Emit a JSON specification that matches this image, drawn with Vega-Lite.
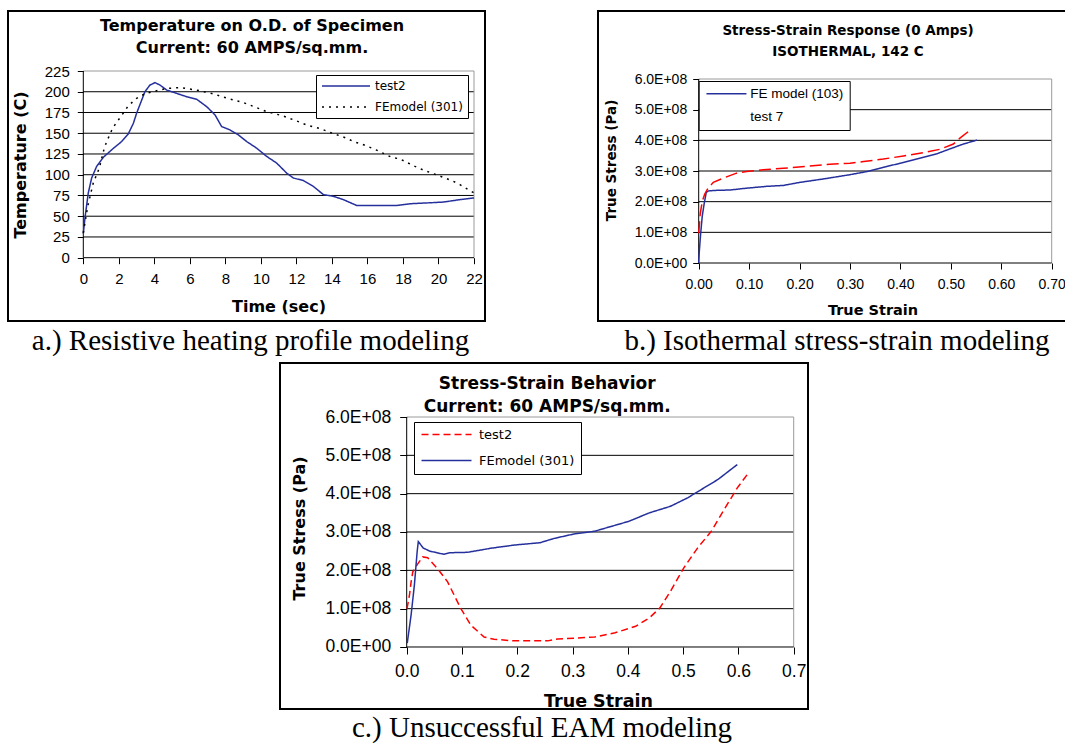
{
  "$schema": "https://vega.github.io/schema/vega-lite/v6.json",
  "background": "white",
  "padding": {"left": 7, "top": 10, "right": 0, "bottom": 0},
  "spacing": 6,
  "resolve": {"scale": {"color": "independent", "strokeDash": "independent"}, "legend": {"color": "independent", "strokeDash": "independent"}},
  "config": {
    "view": {"stroke": "black", "strokeWidth": 2},
    "axis": {
      "grid": false, "domain": false, "tickColor": "black", "tickWidth": 1,
      "labelColor": "black", "labelFont": "Liberation Sans", "titleFont": "DejaVu Sans",
      "titleColor": "black", "titleFontWeight": "bold", "labelFlush": false, "labelOverlap": false,
      "labelBound": false, "titleAlign": "center", "titleBaseline": "middle"
    },
    "legend": {"labelFont": "Liberation Sans", "labelColor": "black", "fillColor": "white", "strokeColor": "black"}
  },
  "datasets": {
    "heating": [
      {"time": 0, "temp": 29, "series": "test2"},
      {"time": 0.1, "temp": 49, "series": "test2"},
      {"time": 0.28, "temp": 78, "series": "test2"},
      {"time": 0.47, "temp": 96, "series": "test2"},
      {"time": 0.75, "temp": 110, "series": "test2"},
      {"time": 1.13, "temp": 121, "series": "test2"},
      {"time": 1.65, "temp": 131, "series": "test2"},
      {"time": 2.16, "temp": 140, "series": "test2"},
      {"time": 2.53, "temp": 149, "series": "test2"},
      {"time": 2.82, "temp": 162, "series": "test2"},
      {"time": 3.0, "temp": 174, "series": "test2"},
      {"time": 3.47, "temp": 200, "series": "test2"},
      {"time": 3.75, "temp": 208, "series": "test2"},
      {"time": 4.04, "temp": 211, "series": "test2"},
      {"time": 4.32, "temp": 208, "series": "test2"},
      {"time": 4.7, "temp": 202, "series": "test2"},
      {"time": 5.26, "temp": 198, "series": "test2"},
      {"time": 5.82, "temp": 194, "series": "test2"},
      {"time": 6.38, "temp": 191, "series": "test2"},
      {"time": 6.95, "temp": 182, "series": "test2"},
      {"time": 7.42, "temp": 172, "series": "test2"},
      {"time": 7.79, "temp": 158, "series": "test2"},
      {"time": 8.26, "temp": 154, "series": "test2"},
      {"time": 8.73, "temp": 148, "series": "test2"},
      {"time": 9.2, "temp": 140, "series": "test2"},
      {"time": 9.76, "temp": 132, "series": "test2"},
      {"time": 10.33, "temp": 122, "series": "test2"},
      {"time": 10.89, "temp": 114, "series": "test2"},
      {"time": 11.45, "temp": 102, "series": "test2"},
      {"time": 11.83, "temp": 96, "series": "test2"},
      {"time": 12.39, "temp": 93, "series": "test2"},
      {"time": 12.95, "temp": 86, "series": "test2"},
      {"time": 13.52, "temp": 76, "series": "test2"},
      {"time": 14.08, "temp": 74, "series": "test2"},
      {"time": 14.64, "temp": 70, "series": "test2"},
      {"time": 15.39, "temp": 63, "series": "test2"},
      {"time": 16.14, "temp": 63, "series": "test2"},
      {"time": 17.65, "temp": 63, "series": "test2"},
      {"time": 18.4, "temp": 65, "series": "test2"},
      {"time": 19.34, "temp": 66, "series": "test2"},
      {"time": 20.27, "temp": 67, "series": "test2"},
      {"time": 21.21, "temp": 70, "series": "test2"},
      {"time": 22, "temp": 72, "series": "test2"},
      {"time": 0, "temp": 30, "series": "FEmodel (301)"},
      {"time": 0.25, "temp": 62, "series": "FEmodel (301)"},
      {"time": 0.56, "temp": 90, "series": "FEmodel (301)"},
      {"time": 0.9, "temp": 108, "series": "FEmodel (301)"},
      {"time": 1.18, "temp": 132, "series": "FEmodel (301)"},
      {"time": 1.32, "temp": 140, "series": "FEmodel (301)"},
      {"time": 1.65, "temp": 156, "series": "FEmodel (301)"},
      {"time": 1.84, "temp": 162, "series": "FEmodel (301)"},
      {"time": 2.31, "temp": 176, "series": "FEmodel (301)"},
      {"time": 2.53, "temp": 183, "series": "FEmodel (301)"},
      {"time": 3.0, "temp": 192, "series": "FEmodel (301)"},
      {"time": 3.5, "temp": 198, "series": "FEmodel (301)"},
      {"time": 4.09, "temp": 201, "series": "FEmodel (301)"},
      {"time": 4.69, "temp": 204, "series": "FEmodel (301)"},
      {"time": 5.44, "temp": 205, "series": "FEmodel (301)"},
      {"time": 6.38, "temp": 202, "series": "FEmodel (301)"},
      {"time": 7.23, "temp": 198, "series": "FEmodel (301)"},
      {"time": 8.13, "temp": 192, "series": "FEmodel (301)"},
      {"time": 9.01, "temp": 187, "series": "FEmodel (301)"},
      {"time": 9.86, "temp": 180, "series": "FEmodel (301)"},
      {"time": 10.32, "temp": 176, "series": "FEmodel (301)"},
      {"time": 11.23, "temp": 171, "series": "FEmodel (301)"},
      {"time": 12.11, "temp": 164, "series": "FEmodel (301)"},
      {"time": 12.58, "temp": 160, "series": "FEmodel (301)"},
      {"time": 13.42, "temp": 155, "series": "FEmodel (301)"},
      {"time": 13.89, "temp": 151, "series": "FEmodel (301)"},
      {"time": 14.83, "temp": 144, "series": "FEmodel (301)"},
      {"time": 15.2, "temp": 140, "series": "FEmodel (301)"},
      {"time": 15.67, "temp": 137, "series": "FEmodel (301)"},
      {"time": 16.48, "temp": 130, "series": "FEmodel (301)"},
      {"time": 17.36, "temp": 121, "series": "FEmodel (301)"},
      {"time": 17.83, "temp": 119, "series": "FEmodel (301)"},
      {"time": 18.68, "temp": 110, "series": "FEmodel (301)"},
      {"time": 19.11, "temp": 106, "series": "FEmodel (301)"},
      {"time": 20.37, "temp": 96, "series": "FEmodel (301)"},
      {"time": 20.84, "temp": 92, "series": "FEmodel (301)"},
      {"time": 21.21, "temp": 88, "series": "FEmodel (301)"},
      {"time": 22, "temp": 78, "series": "FEmodel (301)"}
    ],
    "heatingGrid": [{"temp": 25}, {"temp": 50}, {"temp": 75}, {"temp": 100}, {"temp": 125}, {"temp": 150}, {"temp": 175}, {"temp": 200}],
    "stressGrid": [{"stress": 1e8}, {"stress": 2e8}, {"stress": 3e8}, {"stress": 4e8}, {"stress": 5e8}],
    "isothermal": [
      {"strain": 0, "stress": 0, "series": "FE model (103)"},
      {"strain": 0.001, "stress": 0.33e8, "series": "FE model (103)"},
      {"strain": 0.004, "stress": 0.98e8, "series": "FE model (103)"},
      {"strain": 0.007, "stress": 1.52e8, "series": "FE model (103)"},
      {"strain": 0.011, "stress": 1.95e8, "series": "FE model (103)"},
      {"strain": 0.015, "stress": 2.3e8, "series": "FE model (103)"},
      {"strain": 0.019, "stress": 2.35e8, "series": "FE model (103)"},
      {"strain": 0.036, "stress": 2.37e8, "series": "FE model (103)"},
      {"strain": 0.062, "stress": 2.38e8, "series": "FE model (103)"},
      {"strain": 0.095, "stress": 2.44e8, "series": "FE model (103)"},
      {"strain": 0.135, "stress": 2.5e8, "series": "FE model (103)"},
      {"strain": 0.168, "stress": 2.53e8, "series": "FE model (103)"},
      {"strain": 0.201, "stress": 2.63e8, "series": "FE model (103)"},
      {"strain": 0.247, "stress": 2.74e8, "series": "FE model (103)"},
      {"strain": 0.3, "stress": 2.88e8, "series": "FE model (103)"},
      {"strain": 0.333, "stress": 2.98e8, "series": "FE model (103)"},
      {"strain": 0.366, "stress": 3.12e8, "series": "FE model (103)"},
      {"strain": 0.399, "stress": 3.25e8, "series": "FE model (103)"},
      {"strain": 0.432, "stress": 3.39e8, "series": "FE model (103)"},
      {"strain": 0.472, "stress": 3.56e8, "series": "FE model (103)"},
      {"strain": 0.498, "stress": 3.72e8, "series": "FE model (103)"},
      {"strain": 0.525, "stress": 3.88e8, "series": "FE model (103)"},
      {"strain": 0.552, "stress": 4.01e8, "series": "FE model (103)"},
      {"strain": 0, "stress": 0.97e8, "series": "test 7"},
      {"strain": 0.003, "stress": 1.6e8, "series": "test 7"},
      {"strain": 0.007, "stress": 2.0e8, "series": "test 7"},
      {"strain": 0.012, "stress": 2.25e8, "series": "test 7"},
      {"strain": 0.019, "stress": 2.45e8, "series": "test 7"},
      {"strain": 0.029, "stress": 2.63e8, "series": "test 7"},
      {"strain": 0.049, "stress": 2.77e8, "series": "test 7"},
      {"strain": 0.075, "stress": 2.93e8, "series": "test 7"},
      {"strain": 0.095, "stress": 2.98e8, "series": "test 7"},
      {"strain": 0.128, "stress": 3.04e8, "series": "test 7"},
      {"strain": 0.168, "stress": 3.09e8, "series": "test 7"},
      {"strain": 0.214, "stress": 3.15e8, "series": "test 7"},
      {"strain": 0.26, "stress": 3.22e8, "series": "test 7"},
      {"strain": 0.3, "stress": 3.25e8, "series": "test 7"},
      {"strain": 0.327, "stress": 3.31e8, "series": "test 7"},
      {"strain": 0.366, "stress": 3.39e8, "series": "test 7"},
      {"strain": 0.406, "stress": 3.49e8, "series": "test 7"},
      {"strain": 0.446, "stress": 3.6e8, "series": "test 7"},
      {"strain": 0.479, "stress": 3.71e8, "series": "test 7"},
      {"strain": 0.505, "stress": 3.88e8, "series": "test 7"},
      {"strain": 0.518, "stress": 4.07e8, "series": "test 7"},
      {"strain": 0.535, "stress": 4.29e8, "series": "test 7"}
    ],
    "eam": [
      {"strain": 0.0005, "stress": 1.0e8, "series": "test2"},
      {"strain": 0.005, "stress": 1.35e8, "series": "test2"},
      {"strain": 0.008, "stress": 1.7e8, "series": "test2"},
      {"strain": 0.011, "stress": 1.96e8, "series": "test2"},
      {"strain": 0.02, "stress": 2.17e8, "series": "test2"},
      {"strain": 0.029, "stress": 2.35e8, "series": "test2"},
      {"strain": 0.038, "stress": 2.33e8, "series": "test2"},
      {"strain": 0.056, "stress": 2.04e8, "series": "test2"},
      {"strain": 0.074, "stress": 1.7e8, "series": "test2"},
      {"strain": 0.098, "stress": 1.0e8, "series": "test2"},
      {"strain": 0.116, "stress": 0.57e8, "series": "test2"},
      {"strain": 0.14, "stress": 0.26e8, "series": "test2"},
      {"strain": 0.158, "stress": 0.2e8, "series": "test2"},
      {"strain": 0.195, "stress": 0.16e8, "series": "test2"},
      {"strain": 0.255, "stress": 0.16e8, "series": "test2"},
      {"strain": 0.273, "stress": 0.21e8, "series": "test2"},
      {"strain": 0.303, "stress": 0.23e8, "series": "test2"},
      {"strain": 0.34, "stress": 0.26e8, "series": "test2"},
      {"strain": 0.377, "stress": 0.37e8, "series": "test2"},
      {"strain": 0.414, "stress": 0.54e8, "series": "test2"},
      {"strain": 0.439, "stress": 0.76e8, "series": "test2"},
      {"strain": 0.458, "stress": 1.02e8, "series": "test2"},
      {"strain": 0.477, "stress": 1.45e8, "series": "test2"},
      {"strain": 0.501, "stress": 2.06e8, "series": "test2"},
      {"strain": 0.526, "stress": 2.58e8, "series": "test2"},
      {"strain": 0.551, "stress": 3.02e8, "series": "test2"},
      {"strain": 0.576, "stress": 3.63e8, "series": "test2"},
      {"strain": 0.598, "stress": 4.15e8, "series": "test2"},
      {"strain": 0.618, "stress": 4.54e8, "series": "test2"},
      {"strain": 0.001, "stress": 0.1e8, "series": "FEmodel (301)"},
      {"strain": 0.008, "stress": 0.84e8, "series": "FEmodel (301)"},
      {"strain": 0.014, "stress": 1.63e8, "series": "FEmodel (301)"},
      {"strain": 0.019, "stress": 2.5e8, "series": "FEmodel (301)"},
      {"strain": 0.021, "stress": 2.75e8, "series": "FEmodel (301)"},
      {"strain": 0.03, "stress": 2.58e8, "series": "FEmodel (301)"},
      {"strain": 0.042, "stress": 2.5e8, "series": "FEmodel (301)"},
      {"strain": 0.067, "stress": 2.42e8, "series": "FEmodel (301)"},
      {"strain": 0.079, "stress": 2.46e8, "series": "FEmodel (301)"},
      {"strain": 0.11, "stress": 2.47e8, "series": "FEmodel (301)"},
      {"strain": 0.154, "stress": 2.58e8, "series": "FEmodel (301)"},
      {"strain": 0.195, "stress": 2.66e8, "series": "FEmodel (301)"},
      {"strain": 0.241, "stress": 2.72e8, "series": "FEmodel (301)"},
      {"strain": 0.266, "stress": 2.83e8, "series": "FEmodel (301)"},
      {"strain": 0.303, "stress": 2.95e8, "series": "FEmodel (301)"},
      {"strain": 0.34, "stress": 3.02e8, "series": "FEmodel (301)"},
      {"strain": 0.371, "stress": 3.15e8, "series": "FEmodel (301)"},
      {"strain": 0.402, "stress": 3.28e8, "series": "FEmodel (301)"},
      {"strain": 0.439, "stress": 3.5e8, "series": "FEmodel (301)"},
      {"strain": 0.477, "stress": 3.67e8, "series": "FEmodel (301)"},
      {"strain": 0.508, "stress": 3.89e8, "series": "FEmodel (301)"},
      {"strain": 0.532, "stress": 4.1e8, "series": "FEmodel (301)"},
      {"strain": 0.563, "stress": 4.37e8, "series": "FEmodel (301)"},
      {"strain": 0.598, "stress": 4.76e8, "series": "FEmodel (301)"}
    ]
  },
  "vconcat": [
    {
      "resolve": {"scale": {"color": "independent", "strokeDash": "independent"}, "legend": {"color": "independent", "strokeDash": "independent"}},
      "hconcat": [
        {
          "title": {"text": "a.) Resistive heating profile modeling", "orient": "bottom", "anchor": "middle", "offset": 5, "dx": 4, "font": "Liberation Serif", "fontSize": 29, "fontWeight": "normal", "color": "black"},
          "vconcat": [
            {
              "width": 477, "height": 310,
              "resolve": {"axis": {"x": "independent", "y": "independent"}},
              "layer": [
                {
                  "data": {"name": "heatingGrid"},
                  "mark": {"type": "rule", "color": "black", "strokeWidth": 1},
                  "encoding": {"y": {"field": "temp", "type": "quantitative", "axis": null}, "x": {"datum": 0, "axis": null}, "x2": {"datum": 22}}
                },
                {
                  "data": {"values": [{}]},
                  "mark": {"type": "rule", "color": "#9a9a9a", "strokeWidth": 1},
                  "encoding": {
                    "y": {"datum": 225, "axis": null},
                    "x": {"datum": 0, "axis": {"orient": "top", "offset": 0, "labels": false, "ticks": false, "title": ["Temperature on O.D. of Specimen", "Current: 60 AMPS/sq.mm."], "titleFontSize": 16, "titleLineHeight": 22.7, "titleX": 243.5, "titleY": 14}},
                    "x2": {"datum": 22}
                  }
                },
                {
                  "data": {"values": [{}]},
                  "mark": {"type": "rule", "color": "#9a9a9a", "strokeWidth": 1},
                  "encoding": {"x": {"datum": 22, "axis": null}, "y": {"datum": 0, "axis": null}, "y2": {"datum": 225}}
                },
                {
                  "data": {"values": [{}]},
                  "mark": {"type": "rule", "color": "black", "strokeWidth": 1},
                  "encoding": {"y": {"datum": 0, "axis": null}, "x": {"datum": 0, "axis": null}, "x2": {"datum": 22}}
                },
                {
                  "data": {"values": [{}]},
                  "mark": {"type": "rule", "color": "black", "strokeWidth": 1},
                  "encoding": {"x": {"datum": 0, "axis": null}, "y": {"datum": 0, "axis": null}, "y2": {"datum": 225}}
                },
                {
                  "data": {"name": "heating"},
                  "mark": {"type": "line", "strokeWidth": 1.5},
                  "encoding": {
                    "x": {"field": "time", "type": "quantitative",
                      "scale": {"domain": [-4.24, 22.619], "nice": false, "zero": false},
                      "axis": {"orient": "bottom", "offset": -63.3, "values": [0, 2, 4, 6, 8, 10, 12, 14, 16, 18, 20, 22], "tickSize": 6, "labelPadding": 8, "labelFontSize": 15, "title": "Time (sec)", "titleFontSize": 16, "titleX": 270.5, "titleY": 48.3}},
                    "y": {"field": "temp", "type": "quantitative",
                      "scale": {"domain": [-76.29, 297.31], "nice": false, "zero": false},
                      "axis": {"orient": "left", "offset": -75.3, "values": [0, 25, 50, 75, 100, 125, 150, 175, 200, 225], "tickSize": 6, "labelPadding": 8, "labelFontSize": 15, "title": "Temperature (C)", "titleFontSize": 16, "titleX": -62.6, "titleY": 153.5}},
                    "color": {"field": "series", "type": "nominal",
                      "scale": {"domain": ["test2", "FEmodel (301)"], "range": ["#26309c", "black"]},
                      "legend": {"title": null, "orient": "none", "legendX": 308, "legendY": 64, "padding": 5, "symbolType": "M-1,0H8.6", "symbolSize": 100, "symbolStrokeWidth": 1.5, "labelOffset": 42, "labelFont": "DejaVu Sans", "labelFontSize": 12, "rowPadding": 9}},
                    "strokeDash": {"field": "series", "type": "nominal",
                      "scale": {"domain": ["test2", "FEmodel (301)"], "range": [[1, 0], [2, 5]]}}
                  }
                }
              ]
            }
          ]
        },
        {
          "title": {"text": "b.) Isothermal stress-strain modeling", "orient": "bottom", "anchor": "middle", "offset": 5, "dx": 5, "font": "Liberation Serif", "fontSize": 29, "fontWeight": "normal", "color": "black"},
          "vconcat": [
            {
              "width": 468, "height": 310,
              "resolve": {"axis": {"x": "independent", "y": "independent"}},
              "layer": [
                {
                  "data": {"name": "stressGrid"},
                  "mark": {"type": "rule", "color": "black", "strokeWidth": 1},
                  "encoding": {"y": {"field": "stress", "type": "quantitative", "axis": null}, "x": {"datum": 0, "axis": null}, "x2": {"datum": 0.7}}
                },
                {
                  "data": {"values": [{}]},
                  "mark": {"type": "rule", "color": "#9a9a9a", "strokeWidth": 1},
                  "encoding": {
                    "y": {"datum": 6e8, "axis": null},
                    "x": {"datum": 0, "axis": {"orient": "top", "offset": 0, "labels": false, "ticks": false, "title": ["Stress-Strain Response (0 Amps)", "ISOTHERMAL, 142 C"], "titleFontSize": 13.5, "titleLineHeight": 21.7, "titleX": 249.5, "titleY": 19}},
                    "x2": {"datum": 0.7}
                  }
                },
                {
                  "data": {"values": [{}]},
                  "mark": {"type": "rule", "color": "#9a9a9a", "strokeWidth": 1},
                  "encoding": {"x": {"datum": 0.7, "axis": null}, "y": {"datum": 0, "axis": null}, "y2": {"datum": 6e8}}
                },
                {
                  "data": {"values": [{}]},
                  "mark": {"type": "rule", "color": "black", "strokeWidth": 1},
                  "encoding": {"y": {"datum": 0, "axis": null}, "x": {"datum": 0, "axis": null}, "x2": {"datum": 0.7}}
                },
                {
                  "data": {"values": [{}]},
                  "mark": {"type": "rule", "color": "black", "strokeWidth": 1},
                  "encoding": {"x": {"datum": 0, "axis": null}, "y": {"datum": 0, "axis": null}, "y2": {"datum": 6e8}}
                },
                {
                  "data": {"name": "isothermal"},
                  "mark": {"type": "line", "strokeWidth": 1.5},
                  "encoding": {
                    "x": {"field": "strain", "type": "quantitative",
                      "scale": {"domain": [-0.19968, 0.72836], "nice": false, "zero": false},
                      "axis": {"orient": "bottom", "offset": -58, "values": [0, 0.1, 0.2, 0.3, 0.4, 0.5, 0.6, 0.7], "format": ".2f", "tickSize": 6, "labelPadding": 8, "labelFontSize": 14, "title": "True Strain", "titleFontSize": 14.5, "titleX": 274.5, "titleY": 47.7}},
                    "y": {"field": "stress", "type": "quantitative",
                      "scale": {"domain": [-1.8913e8, 8.2174e8], "nice": false, "zero": false},
                      "axis": {"orient": "left", "offset": -100.7, "values": [0, 1e8, 2e8, 3e8, 4e8, 5e8, 6e8], "labelExpr": "datum.value === 0 ? '0.0E+00' : format(datum.value / 1e8, '.1f') + 'E+08'", "tickSize": 6, "labelPadding": 6, "labelFontSize": 14, "title": "True Stress (Pa)", "titleFontSize": 13.5, "titleX": -87, "titleY": 149}},
                    "color": {"field": "series", "type": "nominal",
                      "scale": {"domain": ["FE model (103)", "test 7"], "range": ["#26309c", "#ff0000"]},
                      "legend": {"title": null, "orient": "none", "legendX": 100.7, "legendY": 70, "padding": 6, "symbolType": "M-1,0H7", "symbolSize": 100, "symbolStrokeWidth": 1.5, "labelOffset": 32, "labelFontSize": 13.5, "rowPadding": 8,
                        "encoding": {"symbols": {"opacity": {"condition": {"test": "datum.value === 'test 7'", "value": 0}, "value": 1}}}}},
                    "strokeDash": {"field": "series", "type": "nominal",
                      "scale": {"domain": ["FE model (103)", "test 7"], "range": [[1, 0], [12, 5]]}}
                  }
                }
              ]
            }
          ]
        }
      ],
      "spacing": 111
    },
    {
      "resolve": {"scale": {"color": "independent", "strokeDash": "independent"}, "legend": {"color": "independent", "strokeDash": "independent"}},
      "hconcat": [
        {"width": 271, "height": 10, "view": {"stroke": null}, "data": {"values": []}, "mark": "point", "encoding": {}},
        {
          "title": {"text": "c.) Unsuccessful EAM modeling", "orient": "bottom", "anchor": "middle", "offset": 3, "dx": -2, "font": "Liberation Serif", "fontSize": 29, "fontWeight": "normal", "color": "black"},
          "vconcat": [
            {
              "width": 528, "height": 346,
              "resolve": {"axis": {"x": "independent", "y": "independent"}},
              "layer": [
                {
                  "data": {"name": "stressGrid"},
                  "mark": {"type": "rule", "color": "black", "strokeWidth": 1},
                  "encoding": {"y": {"field": "stress", "type": "quantitative", "axis": null}, "x": {"datum": 0, "axis": null}, "x2": {"datum": 0.7}}
                },
                {
                  "data": {"values": [{}]},
                  "mark": {"type": "rule", "color": "#9a9a9a", "strokeWidth": 1},
                  "encoding": {
                    "y": {"datum": 6e8, "axis": null},
                    "x": {"datum": 0, "axis": {"orient": "top", "offset": 0, "labels": false, "ticks": false, "title": ["Stress-Strain Behavior", "Current: 60 AMPS/sq.mm."], "titleFontSize": 17, "titleLineHeight": 23.3, "titleX": 266.7, "titleY": 20}},
                    "x2": {"datum": 0.7}
                  }
                },
                {
                  "data": {"values": [{}]},
                  "mark": {"type": "rule", "color": "#9a9a9a", "strokeWidth": 1},
                  "encoding": {"x": {"datum": 0.7, "axis": null}, "y": {"datum": 0, "axis": null}, "y2": {"datum": 6e8}}
                },
                {
                  "data": {"values": [{}]},
                  "mark": {"type": "rule", "color": "black", "strokeWidth": 1},
                  "encoding": {"y": {"datum": 0, "axis": null}, "x": {"datum": 0, "axis": null}, "x2": {"datum": 0.7}}
                },
                {
                  "data": {"values": [{}]},
                  "mark": {"type": "rule", "color": "black", "strokeWidth": 1},
                  "encoding": {"x": {"datum": 0, "axis": null}, "y": {"datum": 0, "axis": null}, "y2": {"datum": 6e8}}
                },
                {
                  "data": {"name": "eam"},
                  "mark": {"type": "line", "strokeWidth": 1.5},
                  "encoding": {
                    "x": {"field": "strain", "type": "quantitative",
                      "scale": {"domain": [-0.22917, 0.72587], "nice": false, "zero": false},
                      "axis": {"orient": "bottom", "offset": -62, "values": [0, 0.1, 0.2, 0.3, 0.4, 0.5, 0.6, 0.7], "format": ".1f", "tickSize": 7, "labelPadding": 8, "labelFontSize": 17.5, "title": "True Strain", "titleFontSize": 17.5, "titleX": 318, "titleY": 54.3}},
                    "y": {"field": "stress", "type": "quantitative",
                      "scale": {"domain": [-1.6174e8, 7.4087e8], "nice": false, "zero": false},
                      "axis": {"orient": "left", "offset": -126.7, "values": [0, 1e8, 2e8, 3e8, 4e8, 5e8, 6e8], "labelExpr": "datum.value === 0 ? '0.0E+00' : format(datum.value / 1e8, '.1f') + 'E+08'", "tickSize": 7, "labelPadding": 9, "labelFontSize": 17.5, "title": "True Stress (Pa)", "titleFontSize": 16, "titleX": -107.7, "titleY": 165}},
                    "color": {"field": "series", "type": "nominal",
                      "scale": {"domain": ["test2", "FEmodel (301)"], "range": ["#ff0000", "#26309c"]},
                      "legend": {"title": null, "orient": "none", "legendX": 134, "legendY": 59, "padding": 6, "symbolType": "M-1,0H9", "symbolSize": 100, "symbolStrokeWidth": 1.5, "labelOffset": 46, "labelFont": "DejaVu Sans", "labelFontSize": 13, "rowPadding": 12}},
                    "strokeDash": {"field": "series", "type": "nominal",
                      "scale": {"domain": ["test2", "FEmodel (301)"], "range": [[7, 4], [1, 0]]}}
                  }
                }
              ]
            }
          ]
        }
      ],
      "spacing": 0
    }
  ]
}
